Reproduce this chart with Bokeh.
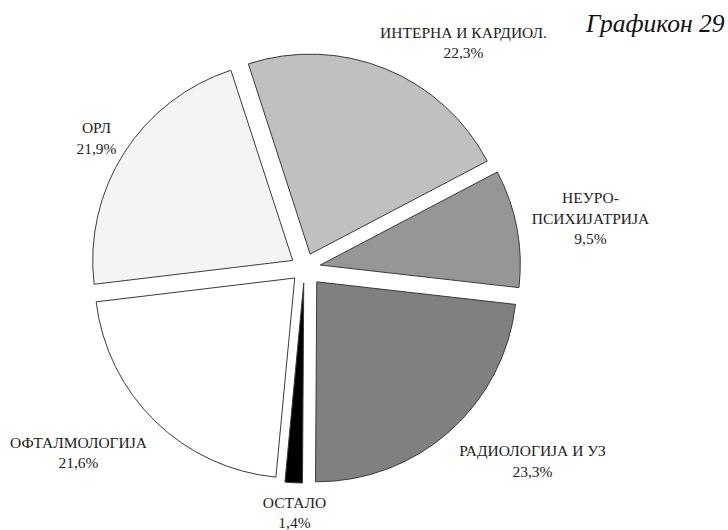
import math
from bokeh.plotting import figure
from bokeh.models import Range1d, ColumnDataSource
from bokeh.embed import file_html
from bokeh.resources import INLINE
from bokeh.core.properties import value

# ---- data ----
categories = ["ИНТЕРНА И КАРДИОЛ.", "НЕУРО-ПСИХИЈАТРИЈА", "РАДИОЛОГИЈА И УЗ",
              "ОСТАЛО", "ОФТАЛМОЛОГИЈА", "ОРЛ"]
label_lines = [["ИНТЕРНА И КАРДИОЛ."], ["НЕУРО-", "ПСИХИЈАТРИЈА"], ["РАДИОЛОГИЈА И УЗ"],
               ["ОСТАЛО"], ["ОФТАЛМОЛОГИЈА"], ["ОРЛ"]]
percent = [22.3, 9.5, 23.3, 1.4, 21.6, 21.9]
title_text = "Графикон 29"

# ---- styles / layout ----
W, H = 728, 530
colors = ["#c0c0c0", "#969696", "#808080", "#000000", "#ffffff", "#f4f4f4"]
explode = [15, 16, 18.5, 15, 14, 14]
start_clock_deg = -18.0            # first slice starts here, clockwise from 12 o'clock
radius = 200
center_page = (304, 267.5)
# first-line anchor of each label, in picture pixels (x centre, y)
label_anchor = [(463, 31.5), (590, 197), (532, 450), (294, 502), (78, 441.5), (96, 127)]
line_steps = [20.5, 20.5, 20.5, 20, 20.5, 20.5]
FONT = "Liberation Serif"
FS = "15.5px"


def px(x):
    return x


def py(y):
    return H - y


p = figure(width=W, height=H, x_range=Range1d(0, W), y_range=Range1d(0, H),
           output_backend="svg", toolbar_location=None,
           x_axis_type=None, y_axis_type=None, min_border=0)
p.outline_line_color = None
p.grid.visible = False
p.background_fill_color = "white"
p.border_fill_color = "white"

cx, cy = px(center_page[0]), py(center_page[1])
total = sum(percent)
xs, ys, sa, ea = [], [], [], []
acc = start_clock_deg
for v, d in zip(percent, explode):
    span = v / total * 360.0
    t1, t2 = acc, acc + span
    mid = math.radians((t1 + t2) / 2)
    xs.append(cx + d * math.sin(mid))
    ys.append(cy + d * math.cos(mid))
    sa.append(math.radians(90 - t2))
    ea.append(math.radians(90 - t1))
    acc = t2

src = ColumnDataSource(dict(x=xs, y=ys, start=sa, end=ea, color=colors, cat=categories))
p.wedge(x="x", y="y", radius=radius, start_angle="start", end_angle="end",
        direction="anticlock", fill_color="color", line_color="#3a3a3a",
        line_width=1, source=src)

# labels
tx, ty, tt = [], [], []
for lines, v, (ax, ay), st in zip(label_lines, percent, label_anchor, line_steps):
    all_lines = lines + [f"{v:.1f}%".replace(".", ",")]
    for i, s in enumerate(all_lines):
        tx.append(px(ax))
        ty.append(py(ay + i * st))
        tt.append(s)
p.text(x=tx, y=ty, text=tt, text_font=value(FONT), text_font_size=FS,
       text_color="#222222", text_align="center", text_baseline="alphabetic")

p.text(x=[px(724)], y=[py(23)], text=[title_text], text_font=value(FONT),
       text_font_size="25.5px", text_font_style="italic", text_color="#111111",
       text_align="right", text_baseline="alphabetic")

open("out.html", "w").write(file_html(p, INLINE))
